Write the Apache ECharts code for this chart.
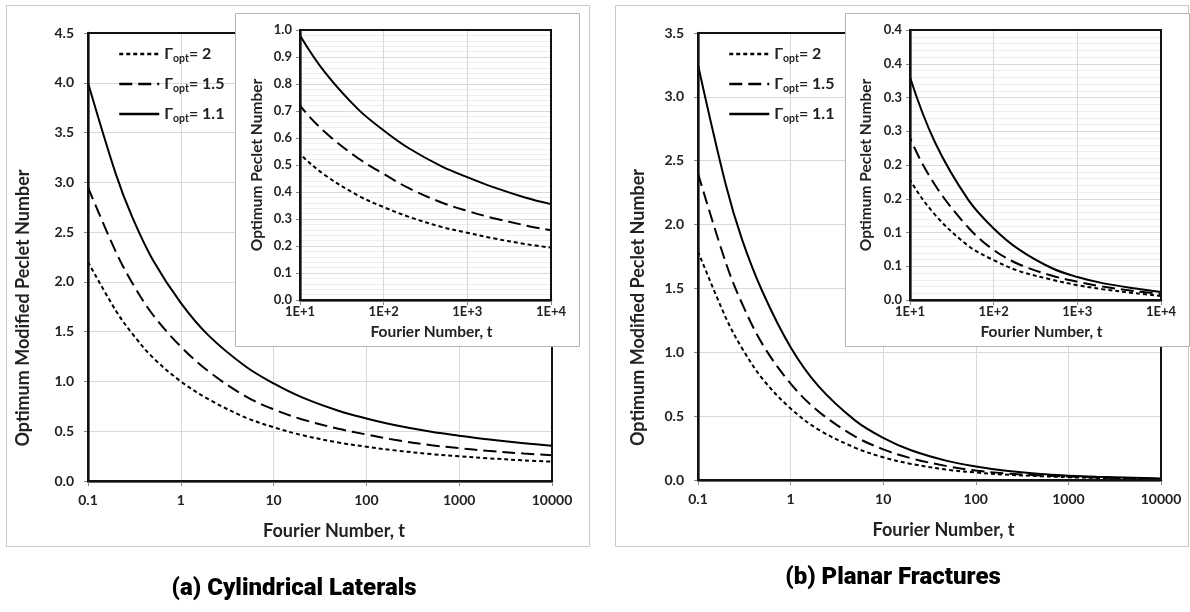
<!DOCTYPE html>
<html><head><meta charset="utf-8">
<script src="https://cdn.jsdelivr.net/npm/echarts@6/dist/echarts.min.js"></script>
<style>html,body{margin:0;padding:0;background:#fff}#c{width:1190px;height:612px}</style>
</head><body><div id="c"></div>
<script>
// ---- data ----
const tValues = [0.1,0.2,0.3,0.5,1,2,5,10,20,50,100,200,500,1000,2000,5000,10000];
// (a) Cylindrical laterals
const cylG2  = [2.20,1.71,1.48,1.24,1.00,0.82,0.637,0.54,0.462,0.386,0.344,0.308,0.27,0.249,0.229,0.207,0.194];
const cylG15 = [2.95,2.30,1.99,1.67,1.35,1.10,0.85,0.72,0.621,0.524,0.467,0.414,0.36,0.33,0.304,0.276,0.258];
const cylG11 = [4.00,3.08,2.65,2.22,1.79,1.46,1.15,0.98,0.842,0.705,0.628,0.562,0.494,0.455,0.419,0.379,0.355];
// (b) Planar fractures
const plaG2  = [1.79,1.27,1.03,0.79,0.56,0.395,0.252,0.178,0.126,0.08,0.059,0.043,0.03,0.022,0.016,0.01,0.006];
const plaG15 = [2.40,1.70,1.38,1.06,0.755,0.537,0.34,0.24,0.17,0.107,0.074,0.053,0.036,0.027,0.02,0.013,0.009];
const plaG11 = [3.25,2.31,1.88,1.47,1.04,0.735,0.465,0.33,0.233,0.148,0.106,0.075,0.047,0.034,0.025,0.017,0.012];

const seriesNames = ['Γopt = 2','Γopt = 1.5','Γopt = 1.1'];
const gammaLabels = ['2','1.5','1.1'];
const mainXLabels = ['0.1','1','10','100','1000','10000'];
const insetXLabels = ['1E+1','1E+2','1E+3','1E+4'];
const cylMainYLabels = ['0.0','0.5','1.0','1.5','2.0','2.5','3.0','3.5','4.0','4.5'];
const plaMainYLabels = ['0.0','0.5','1.0','1.5','2.0','2.5','3.0','3.5'];
const cylInsetYLabels = ['0.0','0.1','0.2','0.3','0.4','0.5','0.6','0.7','0.8','0.9','1.0'];
const plaInsetYLabels = ['0.0','0.1','0.1','0.2','0.2','0.3','0.3','0.4','0.4'];
const panelTitles = ['(a) Cylindrical Laterals','(b) Planar Fractures'];
const mainYName = 'Optimum Modified Peclet Number';
const insetYName = 'Optimum Peclet Number';
const xName = 'Fourier Number, t';

// ---- styles ----
const FONT = 'Lato, "Noto Sans", sans-serif';
const TXT = '#222';
const lineStyles = [
  {type:[4,3], width:2, color:'#000'},
  {type:[13,6], width:2, color:'#000'},
  {type:'solid', width:2, color:'#000'}
];

const grids = [
  {left:88, top:33, width:464, height:448, show:true, borderColor:'#111', borderWidth:2, z:6},
  {left:300, top:30, width:251, height:270, show:true, borderColor:'#111', borderWidth:2, z:14},
  {left:698, top:33, width:463, height:447, show:true, borderColor:'#111', borderWidth:2, z:6},
  {left:910, top:30, width:251, height:270, show:true, borderColor:'#111', borderWidth:2, z:14}
];

function xAxisFor(gi, inset) {
  const labels = inset ? insetXLabels : mainXLabels;
  const minV = inset ? 10 : 0.1;
  return {
    type:'log', logBase:10, gridIndex:gi, min:minV, max:10000, z: inset ? 11 : 3,
    axisLine:{onZero:false, lineStyle:{color:'#333', width:2.5}},
    axisTick:{show:true, length:5, lineStyle:{color:'#888'}},
    splitLine:{show:true, showMinLine:false, showMaxLine:false, lineStyle:{color:'#d9d9d9', width:1}},
    axisLabel:{margin: inset ? 5 : 12, fontFamily:FONT, fontWeight:'bold', fontSize: inset ? 13 : 14, color:TXT,
      formatter: v => labels[Math.round(Math.log10(v) - Math.log10(minV))]},
    name:xName, nameLocation:'middle', nameGap: inset ? 24 : 41,
    nameTextStyle:{fontFamily:FONT, fontWeight:'bold', fontSize: inset ? 15.5 : 18, color:TXT,
      padding: inset ? [0,0,0,12] : [0,0,0,28]}
  };
}
function yAxisFor(gi, inset, maxV, step, labels, nameGap) {
  return {
    type:'value', gridIndex:gi, min:0, max:maxV, interval:step, z: inset ? 11 : 3,
    axisLine:{show:true, onZero:false, lineStyle:{color:'#333', width:2.5}},
    axisTick:{show:true, length:4, lineStyle:{color:'#888'}},
    splitLine:{show:true, showMinLine:false, showMaxLine:false, lineStyle:{color:'#d9d9d9', width:1}},
    minorTick:{show:false, splitNumber:5},
    minorSplitLine:{show:inset, lineStyle:{color:'#eeeeee', width:1}},
    axisLabel:{margin: inset ? 8 : 14, fontFamily:FONT, fontWeight:'bold', fontSize: inset ? 13 : 14, color:TXT,
      formatter: v => labels[Math.round(v / step)]},
    name: inset ? insetYName : mainYName, nameLocation:'middle', nameGap:nameGap,
    nameTextStyle:{fontFamily:FONT, fontWeight:'bold', fontSize: inset ? 15.5 : 18, color:TXT,
      padding: inset ? 0 : [0,102,0,0]}
  };
}

const xAxes = [xAxisFor(0,false), xAxisFor(1,true), xAxisFor(2,false), xAxisFor(3,true)];
const yAxes = [
  yAxisFor(0,false,4.5,0.5,cylMainYLabels,56),
  yAxisFor(1,true,1.0,0.1,cylInsetYLabels,35),
  yAxisFor(2,false,3.5,0.5,plaMainYLabels,51),
  yAxisFor(3,true,0.4,0.05,plaInsetYLabels,36)
];

const panelData = [[cylG2,cylG15,cylG11],[plaG2,plaG15,plaG11]];
const series = [];
for (let p = 0; p < 2; p++) {
  for (let k = 0; k < 2; k++) {
    const gi = p*2 + k;
    panelData[p].forEach((vals, i) => {
      series.push({
        type:'line', name:seriesNames[i], xAxisIndex:gi, yAxisIndex:gi,
        data: tValues.map((t, j) => [t, vals[j]]),
        showSymbol:false, symbol:'none', smooth:0.35, clip:true,
        lineStyle: lineStyles[i], itemStyle:{color:'#000'},
        z: k ? 12 : 4, silent:true, animation:false
      });
    });
  }
}

function legendFor(left) {
  return {
    left:left, top:41, orient:'vertical', itemWidth:40, itemHeight:14, itemGap:12,
    data: seriesNames, selectedMode:false,
    itemStyle:{opacity:0},
    lineStyle:{width:2.5},
    formatter: name => '{g|Γ}{s|opt}{e|= ' + gammaLabels[seriesNames.indexOf(name)] + '}',
    textStyle:{fontFamily:FONT, fontWeight:'bold', fontSize:15, color:TXT,
      rich:{
        g:{fontFamily:FONT, fontWeight:'bold', fontSize:16, color:TXT, lineHeight:20},
        s:{fontFamily:FONT, fontWeight:'bold', fontSize:10.5, color:TXT, lineHeight:10, verticalAlign:'bottom'},
        e:{fontFamily:FONT, fontWeight:'bold', fontSize:16, color:TXT, lineHeight:20}
      }}
  };
}

const TITLE_FONT = '900 24px Roboto, "DejaVu Sans", sans-serif';
const graphics = [
  {type:'rect', shape:{x:6.5, y:5.5, width:583, height:541}, style:{fill:null, stroke:'#c8c8c8', lineWidth:1}, z:0, silent:true},
  {type:'rect', shape:{x:615.5, y:5.5, width:573, height:541}, style:{fill:null, stroke:'#c8c8c8', lineWidth:1}, z:0, silent:true},
  {type:'rect', shape:{x:235.5, y:13.5, width:344, height:333}, style:{fill:'#fff', stroke:'#b4b4b4', lineWidth:1}, z:8, silent:true},
  {type:'rect', shape:{x:845.5, y:13.5, width:344, height:333}, style:{fill:'#fff', stroke:'#b4b4b4', lineWidth:1}, z:8, silent:true},
  {type:'text', x:294, y:589, style:{text:panelTitles[0], fill:'#000', font:TITLE_FONT, textAlign:'center', textVerticalAlign:'middle'}, z:1},
  {type:'text', x:893, y:578, style:{text:panelTitles[1], fill:'#000', font:TITLE_FONT, textAlign:'center', textVerticalAlign:'middle'}, z:1}
];

const chart = echarts.init(document.getElementById('c'), null, {renderer:'canvas'});
chart.setOption({
  backgroundColor:'#fff',
  animation:false,
  grid: grids,
  xAxis: xAxes,
  yAxis: yAxes,
  legend: [legendFor(113), legendFor(723)],
  graphic: {elements: graphics},
  series: series
});
</script></body></html>
